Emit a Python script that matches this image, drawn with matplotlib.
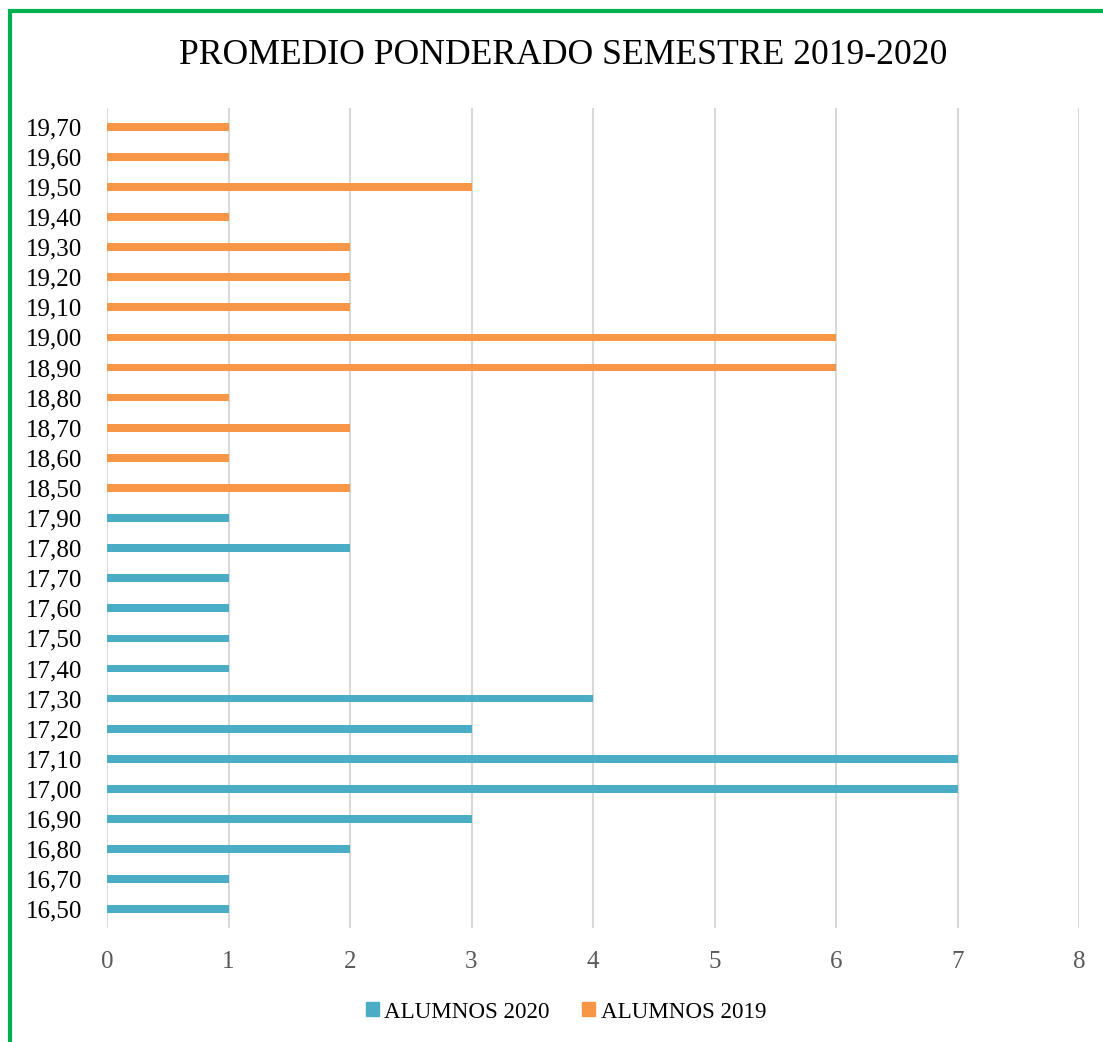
import matplotlib
matplotlib.use("Agg")
import matplotlib.pyplot as plt
from matplotlib.lines import Line2D
from matplotlib.patches import Patch

categories = ["16,50", "16,70", "16,80", "16,90", "17,00", "17,10", "17,20",
              "17,30", "17,40", "17,50", "17,60", "17,70", "17,80", "17,90",
              "18,50", "18,60", "18,70", "18,80", "18,90", "19,00", "19,10",
              "19,20", "19,30", "19,40", "19,50", "19,60", "19,70"]
alumnos_2020 = [1, 1, 2, 3, 7, 7, 3, 4, 1, 1, 1, 1, 2, 1,
                0, 0, 0, 0, 0, 0, 0, 0, 0, 0, 0, 0, 0]
alumnos_2019 = [0, 0, 0, 0, 0, 0, 0, 0, 0, 0, 0, 0, 0, 0,
                2, 1, 2, 1, 6, 6, 2, 2, 2, 1, 3, 1, 1]
x_ticks = [0, 1, 2, 3, 4, 5, 6, 7, 8]
title = "PROMEDIO PONDERADO SEMESTRE 2019-2020"

C2020 = "#4BACC6"
C2019 = "#F79646"
FONT = "Liberation Serif"

W, H = 1103, 1042
fig = plt.figure(figsize=(W / 100, H / 100), dpi=100)
ax = fig.add_axes([107 / W, 1 - 928.3 / H, (1079 - 107) / W, (928.3 - 107.7) / H])

ypos = list(range(len(categories)))
bh = 0.255
ax.barh([y for y, v in zip(ypos, alumnos_2020) if v > 0],
        [v for v in alumnos_2020 if v > 0], height=bh, color=C2020,
        label="ALUMNOS 2020", zorder=3)
ax.barh([y for y, v in zip(ypos, alumnos_2019) if v > 0],
        [v for v in alumnos_2019 if v > 0], height=bh, color=C2019,
        label="ALUMNOS 2019", zorder=3)

ax.set_xlim(0, 8)
ax.set_ylim(-0.63, len(categories) - 1 + 0.63)
ax.set_xticks(x_ticks)
ax.set_xticklabels([str(t) for t in x_ticks], fontfamily=FONT, fontsize=18, color="#595959")
ax.set_yticks(ypos)
ax.set_yticklabels(categories, fontfamily=FONT, fontsize=18, color="black")
ax.tick_params(axis="x", length=0, pad=16)
ax.tick_params(axis="y", length=0, pad=18)
ax.grid(axis="x", color="#D9D9D9", linewidth=1.5, zorder=0)
ax.set_axisbelow(True)
for s in ax.spines.values():
    s.set_visible(False)

fig.text(563 / W, 1 - 56 / H, title, ha="center", va="center",
         fontfamily=FONT, fontsize=25.7, color="black")

handles = [Patch(color=C2020, label="ALUMNOS 2020"),
           Patch(color=C2019, label="ALUMNOS 2019")]
fig.legend(handles=handles, loc="center", bbox_to_anchor=(566 / W, 1 - 1012 / H),
           ncol=2, frameon=False, prop={"family": FONT, "size": 16.6},
           handlelength=0.55, handleheight=0.55, handletextpad=0.25, columnspacing=1.4,
           borderpad=0, borderaxespad=0)

green = "#00B050"
fig.add_artist(Line2D([9.5 / W, 9.5 / W], [0, 1 - 9 / H], transform=fig.transFigure,
                      color=green, linewidth=3, solid_capstyle="butt"))
fig.add_artist(Line2D([7.5 / W, 1], [1 - 11 / H, 1 - 11 / H], transform=fig.transFigure,
                      color=green, linewidth=3, solid_capstyle="butt"))

fig.savefig("out.png", dpi=100, facecolor="white")
